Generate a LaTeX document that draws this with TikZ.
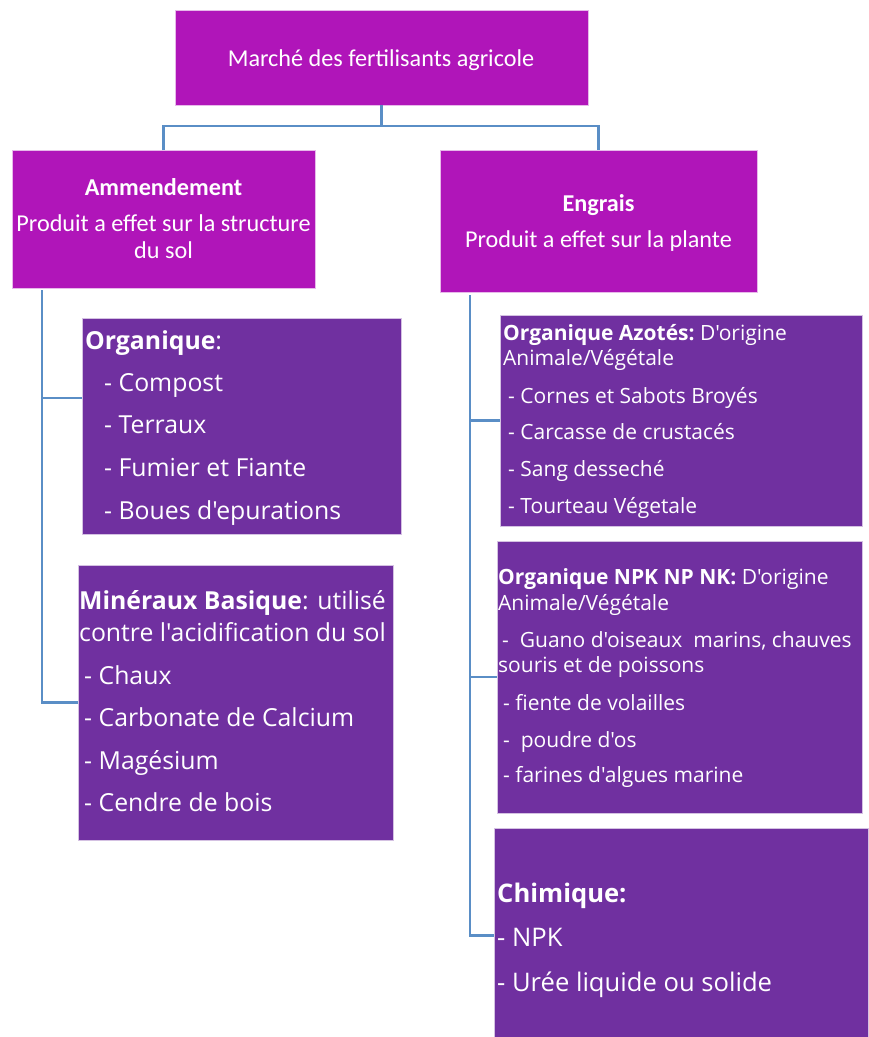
\documentclass[tikz,border=0pt]{standalone}
\usepackage{fontspec}
\setmainfont{Carlito}
\newfontfamily\segoe{Open Sans}
\definecolor{mag}{HTML}{B015B9}
\definecolor{pur}{HTML}{7030A0}
\definecolor{lnk}{HTML}{5A8EC6}
\begin{document}
\begin{tikzpicture}[x=1pt,y=-1pt,
  box/.style={draw=white!70!#1, line width=0.8pt, fill=#1, inner sep=0pt, outer sep=0pt, anchor=north west},
  conn/.style={draw=lnk, line width=2.2pt},
  txt/.style={text=white, inner sep=0pt, anchor=base west},
  ctxt/.style={text=white, inner sep=0pt, anchor=base},
  big/.style={font=\segoe\fontsize{24.8}{28}\selectfont},
  chim/.style={font=\segoe\fontsize{25.6}{29}\selectfont},
  small/.style={font=\segoe\fontsize{21}{25}\selectfont},
  cal/.style={font=\fontsize{24.2}{28}\selectfont},
]
\useasboundingbox (0,0) rectangle (869,1037);
% boxes
\node[box=mag, minimum width=413pt, minimum height=95pt] (top) at (175,10) {};
\node[box=mag, minimum width=303pt, minimum height=138pt] (amm) at (12,150) {};
\node[box=mag, minimum width=317pt, minimum height=142pt] (eng) at (440,150) {};
\node[box=pur, minimum width=319pt, minimum height=216pt] (org) at (82,318) {};
\node[box=pur, minimum width=315pt, minimum height=275pt] (min) at (78,565) {};
\node[box=pur, minimum width=362pt, minimum height=211pt] (azo) at (500,315) {};
\node[box=pur, minimum width=365pt, minimum height=272pt] (npk) at (497,541) {};
\node[box=pur, minimum width=374pt, minimum height=215pt] (chi) at (494,828) {};
% connectors
\coordinate (j) at ([yshift=-21pt]top.south);
\draw[conn] (top.south) -- (j);
\draw[conn] (amm.north) |- (j) -| (eng.north);
\coordinate (lt) at (42,290);
\draw[conn] (lt) |- ([yshift=28pt]org.west);
\draw[conn] (lt) |- (min.west);
\coordinate (rt) at (470,295);
\draw[conn] (rt) |- (azo.west);
\draw[conn] (rt) |- (npk.west);
\draw[conn] (rt) |- (chi.west);
% top texts
\node[ctxt, cal] (t0) at (381,66) {Marché des fertilisants agricole};
\node[ctxt, cal] (a1) at (163.5,195) {\bfseries Ammendement};
\node[ctxt, cal] (a2) at (163.5,231) {Produit a effet sur la structure};
\node[ctxt, cal] (a3) at (163.5,258) {du sol};
\node[ctxt, cal] (e1) at (598.5,211) {\bfseries Engrais};
\node[ctxt, cal] (e2) at (598.5,247) {Produit a effet sur la plante};
% organique
\node[txt, big] (o1) at (85,349) {\bfseries Organique\mdseries:};
\node[txt, big] (o2) at (104,391) {- Compost};
\node[txt, big] (o3) at (104,433) {- Terraux};
\node[txt, big] (o4) at (104,476) {- Fumier et Fiante};
\node[txt, big] (o5) at (104,519) {- Boues d'epurations};
% mineraux
\node[txt, big] (m1) at (79,609) {\bfseries Minéraux Basique\mdseries: utilisé};
\node[txt, big] (m2) at (79,641) {contre l'acidification du sol};
\node[txt, big] (m3) at (84,684) {- Chaux};
\node[txt, big] (m4) at (84,726) {- Carbonate de Calcium};
\node[txt, big] (m5) at (84,769) {- Magésium};
\node[txt, big] (m6) at (84,811) {- Cendre de bois};
% azotes
\node[txt, small] (z1) at (503,340) {\bfseries Organique Azotés:\mdseries\ D'origine};
\node[txt, small] (z2) at (503,365) {Animale/Végétale};
\node[txt, small] (z3) at (508,403) {- Cornes et Sabots Broyés};
\node[txt, small] (z4) at (508,439) {- Carcasse de crustacés};
\node[txt, small] (z5) at (508,476) {- Sang desseché};
\node[txt, small] (z6) at (508,513) {- Tourteau Végetale};
% npk
\node[txt, small] (n1) at (498,584) {\bfseries Organique NPK NP NK:\mdseries\ D'origine};
\node[txt, small] (n2) at (498,610) {Animale/Végétale};
\node[txt, small] (n3) at (502,647) {-\ \ Guano d'oiseaux\ \ marins, chauves};
\node[txt, small] (n4) at (498,672) {souris et de poissons};
\node[txt, small] (n5) at (503,710) {- fiente de volailles};
\node[txt, small] (n6) at (503,747) {-\ \ poudre d'os};
\node[txt, small] (n7) at (503,782) {- farines d'algues marine};
% chimique
\node[txt, chim] (c1) at (497,902) {\bfseries Chimique:};
\node[txt, chim] (c2) at (497,946) {- NPK};
\node[txt, chim] (c3) at (497,991) {- Urée liquide ou solide};
\end{tikzpicture}
\end{document}
